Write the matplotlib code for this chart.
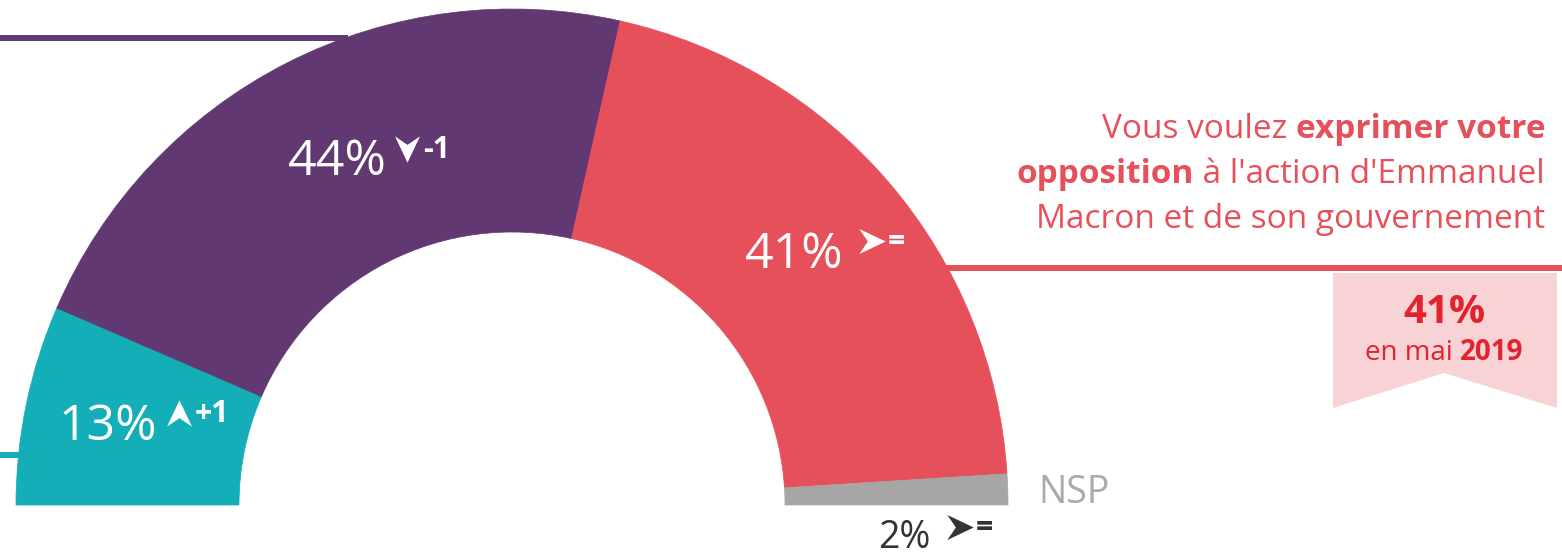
import math
import matplotlib
matplotlib.use("Agg")
import matplotlib.pyplot as plt
from matplotlib.patches import Wedge, Polygon
from matplotlib.path import Path
from matplotlib.markers import MarkerStyle

plt.rcParams['font.family'] = ['Open Sans', 'DejaVu Sans']

# data
categories = ["Soutien", "Attente", "Opposition", "NSP"]
shares = [13, 44, 41, 2]
changes = ["+1", "-1", "=", "="]
trend = ["up", "down", "flat", "flat"]
colors = ["#13aeb7", "#613872", "#e6505a", "#a6a6a6"]
ref_value = "41%"
ref_month = "en mai "
ref_year = "2019"

W, H = 1562, 554
fig = plt.figure(figsize=(W / 100, H / 100), dpi=100)
ax = fig.add_axes([0, 0, 1, 1])
ax.set_xlim(0, W)
ax.set_ylim(0, H)
ax.axis("off")

def Y(y):
    # image row -> data y
    return H - y

cx, cy = 512, Y(505)
R, r_in = 496, 273

def outer_x(y, side):
    dy = y - cy
    return cx + side * math.sqrt(R * R - dy * dy) * 0.98

# leader lines, ending under the ring
for yy, c, side in [(38, colors[1], -1), (455, colors[0], -1), (268, colors[2], 1)]:
    xe = outer_x(Y(yy), side)
    xs = 0 if side < 0 else W
    ax.plot([xs, xe], [Y(yy), Y(yy)], color=c, lw=4.3, solid_capstyle="butt", zorder=1)

# wedges, left to right
total = sum(shares)
start = 180.0
mids = []
for v, c in zip(shares, colors):
    span = 180.0 * v / total
    w = Wedge((cx, cy), R, start - span, start, width=R - r_in,
              facecolor=c, edgecolor=c, lw=0.5, zorder=2)
    ax.add_patch(w)
    mids.append(start - span / 2)
    start -= span

arrow_path = Path([(1, 0), (-1, 0.95), (-0.35, 0), (-1, -0.95), (1, 0)],
                  [Path.MOVETO, Path.LINETO, Path.LINETO, Path.LINETO, Path.CLOSEPOLY])
rot = {"up": 90, "down": -90, "flat": 0}

fig.canvas.draw()
rend = fig.canvas.get_renderer()

def label_group(x, y, pct, chg, tr, col, size, dx_arrow, chg_size):
    t = ax.text(x, y, pct, ha="center", va="center", fontsize=size, color=col, zorder=3)
    bb = t.get_window_extent(rend)
    top = bb.y1 - 0.22 * bb.height
    ax_x = bb.x1 + dx_arrow
    m = MarkerStyle(arrow_path).rotated(deg=rot[tr])
    ax.plot([ax_x], [top], marker=m, markersize=19, color=col, mec="none", zorder=3)
    ax.text(ax_x + 16, top - 1, chg, ha="left", va="center", fontsize=chg_size,
            fontweight="bold", color=col, zorder=3)

rmid = (R + r_in) / 2
offs = [-28, 0, -10]
dxs = [22, 20, 28]
for i in range(3):
    a = math.radians(mids[i])
    x = cx + rmid * math.cos(a) + offs[i]
    y = cy + rmid * math.sin(a)
    label_group(x, y, f"{shares[i]}%", changes[i], trend[i], "white", 36, dxs[i], 22)

# NSP small share, label outside
label_group(904, Y(538), f"{shares[3]}%", changes[3], trend[3], "#333333", 27, 30, 22)
ax.text(1038, Y(493), categories[3], ha="left", va="center", fontsize=27, color="#aaaaaa")

# question text, right aligned with mixed weights
qcol = "#e6505a"
lines = [
    [("Vous voulez ", "normal"), ("exprimer votre", "bold")],
    [("opposition", "bold"), (" à l'action d'Emmanuel", "normal")],
    [("Macron et de son gouvernement", "normal")],
]
xr = 1545
for k, parts in enumerate(lines):
    yb = Y(138 + 45 * k)
    x = xr
    for txt, wgt in reversed(parts):
        t = ax.text(x, yb, txt, ha="right", va="baseline", fontsize=24,
                    fontweight=wgt, color=qcol)
        bb = t.get_window_extent(rend)
        x = bb.x0

# ribbon box with previous value
ax.add_patch(Polygon([(1333, Y(273)), (1557, Y(273)), (1557, Y(408)), (1444, Y(373)),
                      (1333, Y(408))], closed=True, facecolor="#f7d3d5", edgecolor="none", zorder=0))
bcol = "#e2232e"
ax.text(1444, Y(323), ref_value, ha="center", va="baseline", fontsize=29,
        fontweight="bold", color=bcol)
t1 = ax.text(1444, Y(360), ref_month, ha="left", va="baseline", fontsize=20, color=bcol)
t2 = ax.text(1444, Y(360), ref_year, ha="left", va="baseline", fontsize=20,
             fontweight="bold", color=bcol)
w1 = t1.get_window_extent(rend).width
w2 = t2.get_window_extent(rend).width
x0 = 1444 - (w1 + w2) / 2
t1.set_x(x0)
t2.set_x(x0 + w1)

fig.savefig("out.png", dpi=100)
